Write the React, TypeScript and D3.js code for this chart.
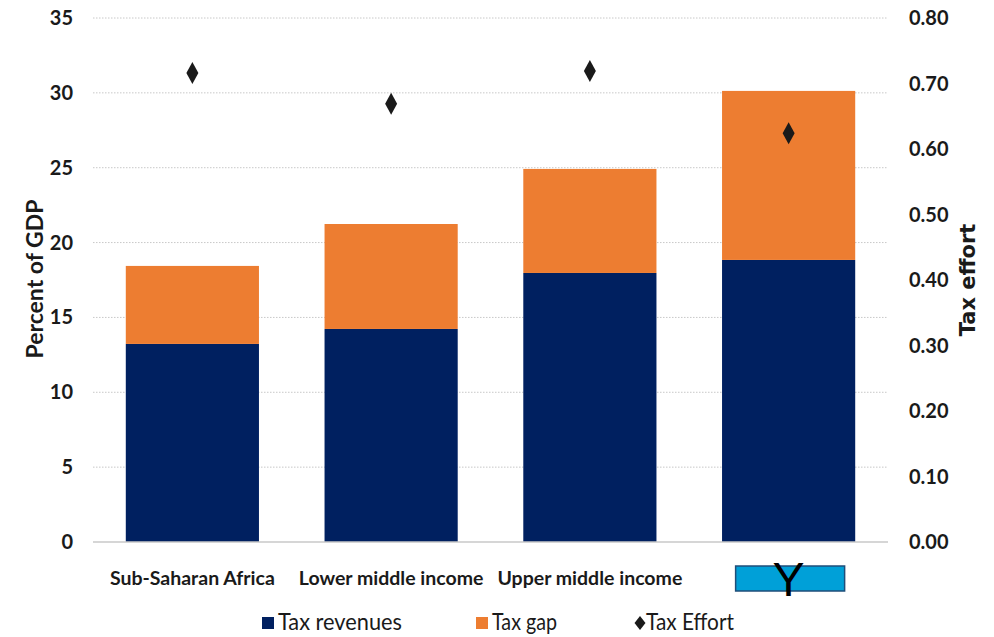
import React from "react";
import * as d3 from "d3";

const categories = ["Sub-Saharan Africa", "Lower middle income", "Upper middle income", "Y"];
const taxRevenues = [13.23, 14.23, 17.97, 18.84];
const taxGap = [5.21, 7.01, 6.95, 11.29];
const taxEffort = [0.716, 0.669, 0.719, 0.624];
const leftTicks = [0, 5, 10, 15, 20, 25, 30, 35];
const rightTicks = [0, 0.1, 0.2, 0.3, 0.4, 0.5, 0.6, 0.7, 0.8];
const legendItems = ["Tax revenues", "Tax gap", "Tax Effort"];

const W = 994, H = 637;
const left = 93, right = 888, top = 18, bottom = 542;
const font = "Lato, 'Open Sans', sans-serif";
const narrow = "'Liberation Sans Narrow', Lato, sans-serif";

export default function App() {
  const x = d3.scaleBand().domain(categories).range([left, right]).paddingInner(0.33).paddingOuter(0.165);
  const yL = d3.scaleLinear().domain([0, 35]).range([bottom, top]);
  const yR = d3.scaleLinear().domain([0, 0.8]).range([bottom, top]);
  const diamond = (cx: number, cy: number, w: number, h: number) =>
    `M${cx},${cy - h / 2}L${cx + w / 2},${cy}L${cx},${cy + h / 2}L${cx - w / 2},${cy}Z`;
  const cx4 = x(categories[3])! + x.bandwidth() / 2;
  return (
    <svg width={W} height={H} style={{ position: "absolute", left: 0, top: 0, background: "#fff" }}>
      {leftTicks.slice(1).map((t) => (
        <line key={"g" + t} x1={left} x2={right} y1={yL(t)} y2={yL(t)} stroke="#c8c8c8" strokeWidth={1} strokeDasharray="1.5,1.5" />
      ))}
      {categories.map((c, i) => {
        const bx = x(c)!;
        const bw = x.bandwidth();
        return (
          <g key={c}>
            <rect x={bx} y={yL(taxRevenues[i])} width={bw} height={yL(0) - yL(taxRevenues[i])} fill="#002060" />
            <rect x={bx} y={yL(taxRevenues[i] + taxGap[i])} width={bw} height={yL(taxRevenues[i]) - yL(taxRevenues[i] + taxGap[i])} fill="#ED7D31" />
            <path d={diamond(bx + bw / 2, yR(taxEffort[i]), 12, 22)} fill="#1a1a1a" />
          </g>
        );
      })}
      <line x1={left} x2={right} y1={bottom} y2={bottom} stroke="#c8c8c8" strokeWidth={1.5} />
      {leftTicks.map((t) => (
        <text key={"l" + t} x={73} y={yL(t) + 7} textAnchor="end" fontFamily={font} fontWeight={700} fontSize={20} fill="#1a1a1a">{t}</text>
      ))}
      {rightTicks.map((t) => (
        <text key={"r" + t} x={909} y={yR(t) + 7} textAnchor="start" fontFamily={font} fontWeight={700} fontSize={20} fill="#1a1a1a">{t.toFixed(2)}</text>
      ))}
      <text transform={`translate(43,279) rotate(-90)`} textAnchor="middle" fontFamily={font} fontWeight={700} fontSize={23} fill="#1a1a1a">Percent of GDP</text>
      <text transform={`translate(975,280) rotate(-90)`} textAnchor="middle" fontFamily="'DejaVu Sans', sans-serif" fontWeight={700} fontSize={21} fill="#1a1a1a">Tax effort</text>
      {categories.slice(0, 3).map((c) => (
        <text key={"c" + c} x={x(c)! + x.bandwidth() / 2} y={585} textAnchor="middle" fontFamily={font} fontWeight={700} fontSize={19.5} fill="#1a1a1a">{c}</text>
      ))}
      <rect x={cx4 - 53} y={566} width={109} height={25} fill="#00A0D8" stroke="#1F4E79" strokeWidth={1.5} />
      <text x={cx4} y={596} textAnchor="middle" fontFamily="'Liberation Sans', Arial, sans-serif" fontSize={48} fill="#000">{categories[3]}</text>
      <rect x={262} y={617} width={12} height={12} fill="#002060" />
      <text x={278} y={630} fontFamily={narrow} fontSize={23} textLength={124} lengthAdjust="spacingAndGlyphs" fill="#1a1a1a">{legendItems[0]}</text>
      <rect x={476} y={617} width={12} height={12} fill="#ED7D31" />
      <text x={492} y={630} fontFamily={narrow} fontSize={23} textLength={65} lengthAdjust="spacingAndGlyphs" fill="#1a1a1a">{legendItems[1]}</text>
      <path d={diamond(640, 623, 11, 14)} fill="#1a1a1a" />
      <text x={646} y={630} fontFamily={narrow} fontSize={23} textLength={88} lengthAdjust="spacingAndGlyphs" fill="#1a1a1a">{legendItems[2]}</text>
    </svg>
  );
}
